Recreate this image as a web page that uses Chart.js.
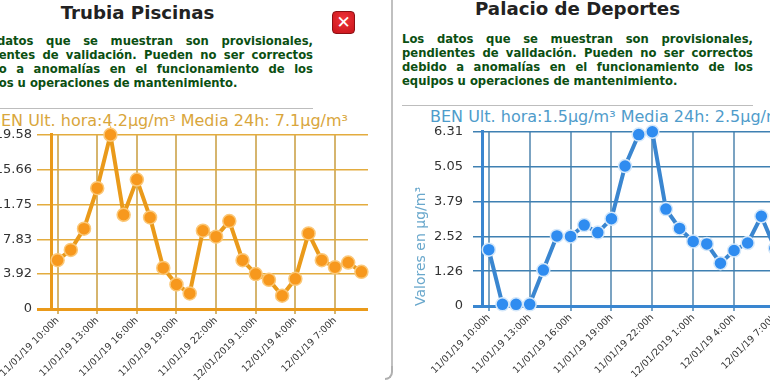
<!DOCTYPE html>
<html>
<head>
<meta charset="utf-8">
<script src="https://cdn.jsdelivr.net/npm/chart.js@4"></script>
<style>
html,body{margin:0;padding:0;background:#fff;}
body{position:relative;width:770px;height:380px;overflow:hidden;font-family:"DejaVu Sans",sans-serif;}
.abs{position:absolute;}
.name{font-weight:bold;font-size:18.2px;color:#222;width:351px;text-align:center;line-height:20px;}
.note{font-weight:bold;font-size:11.6px;line-height:14px;color:#0b4f12;width:351px;text-align:justify;}
.rule{height:1px;width:351px;background:#bdbdbd;}
.head{font-size:16px;line-height:18px;white-space:nowrap;}
.frame{left:391px;top:0;width:0;height:368px;border-left:2px solid #c0c0c0;}
.corner{left:385px;top:366px;width:6px;height:12px;border-right:2px solid #b0b0b0;border-bottom:2px solid #b0b0b0;border-bottom-right-radius:8px;}
.close{left:332px;top:11px;width:23px;height:23px;border-radius:4px;background:radial-gradient(circle at 50% 35%,#f0343a,#c8141a);border:1px solid #8c1014;box-sizing:border-box;
  color:#fff;font:bold 17px/20px "DejaVu Sans",sans-serif;text-align:center;}
canvas{position:absolute;}
</style>
</head>
<body>
<div class="abs frame"></div>
<div class="abs corner"></div>

<div class="abs name" style="left:-38px;top:3px">Trubia Piscinas</div>
<div class="abs close">✕</div>
<div class="abs note" style="left:-38px;top:34px">Los datos que se muestran son provisionales, pendientes de validación. Pueden no ser correctos debido a anomalías en el funcionamiento de los equipos u operaciones de mantenimiento.</div>
<div class="abs rule" style="left:-38px;top:108px"></div>
<div class="abs head" style="left:-10px;top:112px;color:#d9a63c">BEN Ult. hora:4.2µg/m³ Media 24h: 7.1µg/m³</div>

<div class="abs name" style="left:402px;top:-1px">Palacio de Deportes</div>
<div class="abs note" style="left:402px;top:32px">Los datos que se muestran son provisionales, pendientes de validación. Pueden no ser correctos debido a anomalías en el funcionamiento de los equipos u operaciones de mantenimiento.</div>
<div class="abs rule" style="left:402px;top:105px"></div>
<div class="abs head" style="left:430px;top:108px;color:#4f9ccb">BEN Ult. hora:1.5µg/m³ Media 24h: 2.5µg/m³</div>

<canvas id="chartTrubia" style="left:-40px;top:122px;width:420px;height:258px" width="420" height="258"></canvas>
<canvas id="chartPalacio" style="left:400px;top:114px;width:420px;height:266px" width="420" height="266"></canvas>

<script>
/* ---------- Data ---------- */
const hours = [
  '11/01/19 10:00h','11/01/19 11:00h','11/01/19 12:00h','11/01/19 13:00h','11/01/19 14:00h','11/01/19 15:00h',
  '11/01/19 16:00h','11/01/19 17:00h','11/01/19 18:00h','11/01/19 19:00h','11/01/19 20:00h','11/01/19 21:00h',
  '11/01/19 22:00h','11/01/19 23:00h','12/01/19 0:00h','12/01/2019 1:00h','12/01/19 2:00h','12/01/19 3:00h',
  '12/01/19 4:00h','12/01/19 5:00h','12/01/19 6:00h','12/01/19 7:00h','12/01/19 8:00h','12/01/19 9:00h'
];
const trubiaValues = [5.48,6.64,9.03,13.58,19.58,10.59,14.55,10.29,4.62,2.76,1.75,8.80,8.13,9.88,5.48,3.92,3.28,1.49,3.39,8.50,5.48,4.70,5.22,4.18];
const palacioValues = [2.04,0.06,0.06,0.06,1.30,2.54,2.52,2.93,2.66,3.16,5.07,6.21,6.31,3.51,2.81,2.34,2.25,1.55,2.01,2.28,3.25,2.09,2.40,1.50];
const trubiaTicks = [0,3.92,7.83,11.75,15.66,19.58];
const palacioTicks = [0,1.26,2.52,3.79,5.05,6.31];
const TICK_EVERY = 3;

/* ---------- Chart builder ---------- */
function buildChart(id, values, yTicks, o){
  return new Chart(document.getElementById(id), {
    type: 'line',
    data: {
      labels: hours,
      datasets: [{
        data: values,
        borderColor: o.line,
        borderWidth: 4,
        backgroundColor: o.point,
        fill: false,
        tension: 0,
        clip: false,
        pointRadius: 6.5,
        pointBorderWidth: 1.5,
        pointBackgroundColor: o.point,
        pointBorderColor: o.pointEdge
      }]
    },
    options: {
      responsive: false,
      animation: false,
      layout: { autoPadding:false, padding: { right: o.right, top: 0, left: 0, bottom: 0 } },
      plugins: { legend: { display:false }, title: { display:false }, tooltip: { enabled:false } },
      scales: {
        x: {
          type: 'category',
          offset: true,
          afterFit: (s)=>{ s.height = o.xHeight; },
          afterBuildTicks: (s)=>{ s.ticks = s.ticks.filter(t=>t.value % TICK_EVERY === 0); },
          border: { display:false },
          grid: { color: o.gridX, lineWidth: 2, tickLength: 5, drawTicks: true },
          ticks: { autoSkip:false, minRotation:45, maxRotation:45, padding:1, color:'#333', font:{ family:'"DejaVu Sans"', size:9.5 } }
        },
        y: {
          min: yTicks[0],
          max: yTicks[yTicks.length-1],
          afterFit: (s)=>{ s.width = o.yWidth; },
          afterBuildTicks: (s)=>{ s.ticks = yTicks.map(v=>({value:v})); },
          border: { display:true, color:o.line, width:3 },
          grid: {
            color: (c)=> c.tick && c.tick.value === 0 ? o.line : o.gridY,
            lineWidth: (c)=> c.tick && c.tick.value === 0 ? 3 : 1.5,
            tickLength: o.yTick
          },
          title: { display:true, text:'Valores en µg/m³', color:o.axisTitle, align:'start', padding:{ top:13, bottom:0 }, font:{ family:'"DejaVu Sans"', size:14 } },
          ticks: { padding:o.yPad, color:'#333', font:{ family:'"DejaVu Sans"', size:13 }, callback:(v)=>String(v) }
        }
      }
    }
  });
}

buildChart('chartTrubia', trubiaValues, trubiaTicks, {
  line:'#ea9a1a', point:'#f7981d', pointEdge:'#fbc878', gridX:'#d6b56e', gridY:'#e3ac3f', axisTitle:'#d9a63c',
  right:12, xHeight:71, yWidth:91, yTick:14, yPad:5
});
buildChart('chartPalacio', palacioValues, palacioTicks, {
  line:'#3a86d0', point:'#2f8cf0', pointEdge:'#d5e8fa', gridX:'#7ba3c2', gridY:'#3f80b2', axisTitle:'#6aa8cc',
  right:11, xHeight:74, yWidth:82, yTick:9, yPad:10
});
</script>
</body>
</html>
